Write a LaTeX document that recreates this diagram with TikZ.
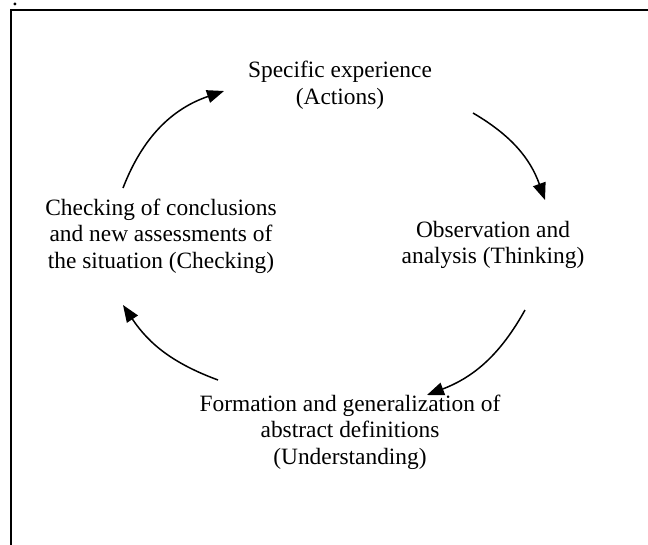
\documentclass[tikz,border=0pt]{standalone}
\usepackage{fontspec}
\setmainfont{Liberation Serif}
\usetikzlibrary{arrows.meta}
\tikzset{
  stage/.style={align=center, inner sep=0pt, font=\fontsize{23.4}{26.5}\selectfont},
  cyc/.style={line width=1.5pt, -{Triangle[length=17pt,width=13pt]}},
  frame/.style={line width=2pt}
}
\begin{document}
\begin{tikzpicture}[x=1pt,y=1pt]
\useasboundingbox (0,0) rectangle (648,-544);
\draw[frame] (11,-560) -- (11,-10) -- (660,-10);
\node[stage, anchor=base, text height=3pt, text depth=0pt] (dot) at (15,-5) {.};
\node[stage] (exp) at (340,-85) {Specific experience\\(Actions)};
\node[stage] (obs) at (493,-245) {Observation and\\analysis (Thinking)};
\node[stage] (form) at (350,-432) {Formation and generalization of\\abstract definitions\\(Understanding)};
\node[stage] (chk) at (161,-236) {Checking of conclusions\\and new assessments of\\the situation (Checking)};
\coordinate (a1s) at (123,-188);
\coordinate (a1e) at (224,-91);
\coordinate (a2s) at (473,-113);
\coordinate (a2e) at (545,-200);
\coordinate (a3s) at (525,-310);
\coordinate (a3e) at (427,-395);
\coordinate (a4s) at (218,-380);
\coordinate (a4e) at (123,-305);
\draw[cyc] (a1s) to[bend left=25] (a1e);
\draw[cyc] (a2s) to[bend left=20] (a2e);
\draw[cyc] (a3s) to[bend left=20] (a3e);
\draw[cyc] (a4s) to[bend left=18] (a4e);
\end{tikzpicture}
\end{document}
